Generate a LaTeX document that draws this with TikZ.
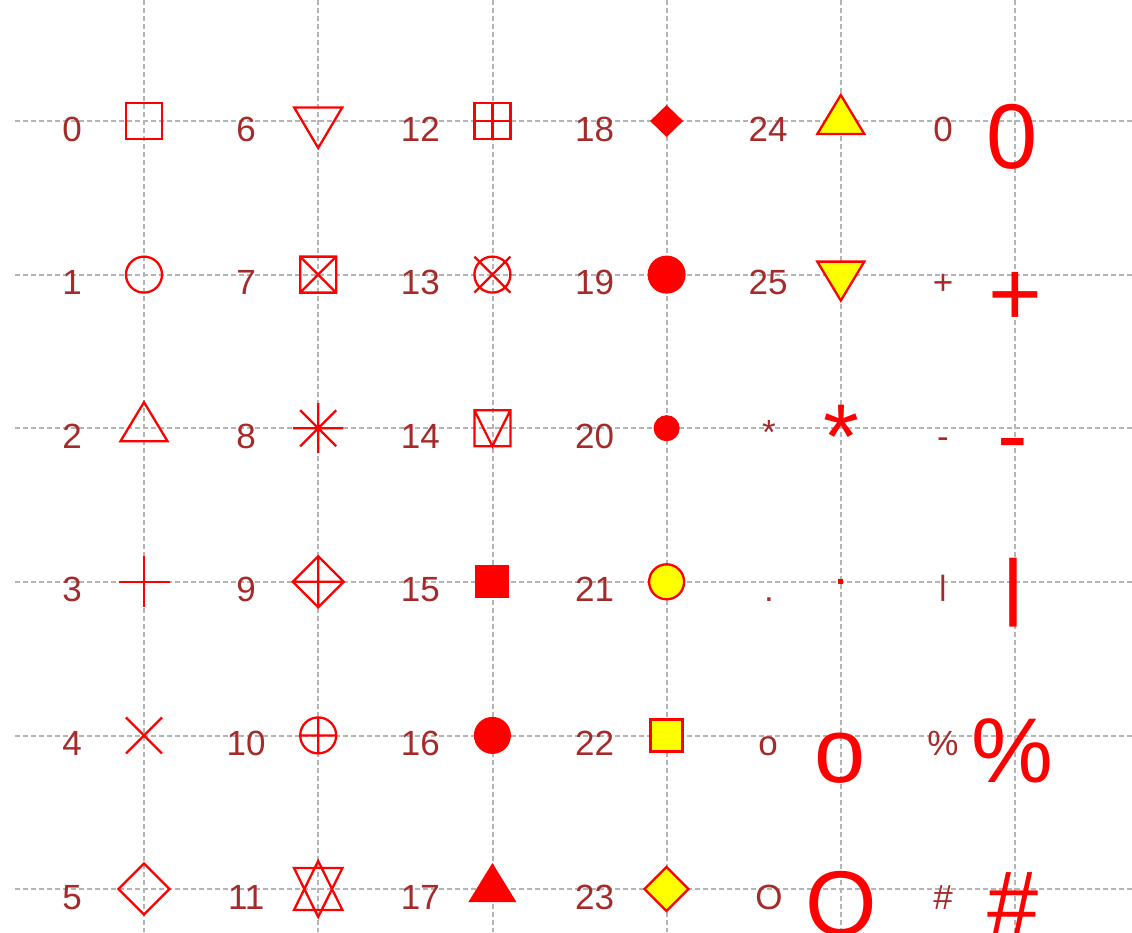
\documentclass[tikz,border=0pt]{standalone}
\usepackage{fontspec}
\setmainfont{Liberation Sans}
\usepackage{tikz}
\usetikzlibrary{positioning}

\definecolor{pchred}{HTML}{FF0000}
\definecolor{labelred}{HTML}{A52A2A}
\definecolor{pchyellow}{HTML}{FFFF00}
\definecolor{gridgray}{HTML}{B4B4B4}

\begin{document}
\begin{tikzpicture}[x=1pt, y=-1pt,
    grid line/.style={gridgray, line width=2.4pt, dash pattern=on 4.5pt off 3.5pt},
    sym/.style={draw=pchred, line width=2.3pt},
    solid sym/.style={fill=pchred, draw=pchred, line width=1pt},
    bg sym/.style={draw=pchred, fill=pchyellow, line width=2.3pt},
    lbl/.style={text=labelred, font=\fontsize{35}{35}\selectfont, anchor=base, inner sep=0pt},
    big/.style={text=pchred, font=\fontsize{92}{92}\selectfont, anchor=base, inner sep=0pt}]

\useasboundingbox (0,0) rectangle (1132,932);

% dotted grid
\foreach \gx in {144,318,493,667,841,1015}
  \draw[grid line] (\gx,0) -- (\gx,932);
\foreach \gy in {121,275,428,582,736,889}
  \draw[grid line] (15,\gy) -- (1132,\gy);

% symbol positions and number labels
\foreach \c in {0,...,4}
  \foreach \r in {0,...,5} {
    \pgfmathtruncatemacro\k{6*\c+\r}
    \coordinate (s\k) at ({144+174.2*\c},{121+153.6*\r});
  }
\foreach \c in {0,...,3}
  \foreach \r in {0,...,5} {
    \pgfmathtruncatemacro\k{6*\c+\r}
    \node[lbl] (lbl\k) at ({72+174.2*\c},{141+153.6*\r}) {\k};
  }
\node[lbl] (lbl24) at (768,141) {24};
\node[lbl] (lbl25) at (768,294.6) {25};
\node[lbl] (lblstar) at (769,444) {*};
\node[lbl] (lbldot) at (769,601.8) {.};
\node[lbl] (lblo) at (768,755.4) {o};
\node[lbl] (lblO) at (769,909) {O};
\node[lbl] (lblzero) at (943,141) {0};
\node[lbl] (lblplus) at (943,294.6) {+};
\node[lbl] (lblminus) at (943,448.2) {-};
\node[lbl, anchor=center] (lblbar) at (943,588.5) {\scalebox{1}[0.8]{|}};
\node[lbl] (lblpct) at (943,755.4) {\%};
\node[lbl] (lblhash) at (943,909) {\#};

% open symbols
\draw[sym, shift={(s0)}] (-18,-18) rectangle (18,18);
\draw[sym, shift={(s1)}] (0,0) circle[radius=18];
\draw[sym, shift={(s2)}] (0,-26) -- (23.5,13) -- (-23.5,13) -- cycle;
\draw[sym, shift={(s3)}] (-25.5,0) -- (25.5,0) (0,-25.5) -- (0,25.5);
\draw[sym, shift={(s4)}] (-18,-18) -- (18,18) (-18,18) -- (18,-18);
\draw[sym, shift={(s5)}] (-25.5,0) -- (0,-25.5) -- (25.5,0) -- (0,25.5) -- cycle;
\draw[sym, shift={(s6)}] (0,27) -- (24,-13.5) -- (-24,-13.5) -- cycle;
\draw[sym, shift={(s7)}] (-18,-18) rectangle (18,18) (-18,-18) -- (18,18) (-18,18) -- (18,-18);
\draw[sym, shift={(s8)}] (-25,0) -- (25,0) (0,-25) -- (0,25) (-18,-18) -- (18,18) (-18,18) -- (18,-18);
\draw[sym, shift={(s9)}] (-25.5,0) -- (0,-25.5) -- (25.5,0) -- (0,25.5) -- cycle
  (-25.5,0) -- (25.5,0) (0,-25.5) -- (0,25.5);
\draw[sym, shift={(s10)}] (0,0) circle[radius=18] (-18,0) -- (18,0) (0,-18) -- (0,18);
\draw[sym, shift={(s11)}] (0,-28) -- (24.2,21) -- (-24.2,21) -- cycle
  (0,28) -- (24.2,-21) -- (-24.2,-21) -- cycle;
\draw[sym, shift={(s12)}] (-18,-18) rectangle (18,18) (-18,0) -- (18,0) (0,-18) -- (0,18);
\draw[sym, shift={(s13)}] (0,0) circle[radius=18] (-18,-18) -- (18,18) (-18,18) -- (18,-18);
\draw[sym, shift={(s14)}] (-18,-18) rectangle (18,18) (-18,-18) -- (0,18) -- (18,-18);

% solid symbols
\fill[pchred, shift={(s15)}] (-17,-16.5) rectangle (17,16.5);
\draw[solid sym, shift={(s16)}] (0,0) circle[radius=18];
\fill[pchred, shift={(s17)}] (0,-26) -- (24,13) -- (-24,13) -- cycle;
\fill[pchred, shift={(s18)}] (-16.5,0) -- (0,-16) -- (16.5,0) -- (0,16) -- cycle;
\draw[solid sym, shift={(s19)}] (0,0) circle[radius=18.5];
\draw[solid sym, shift={(s20)}] (0,0) circle[radius=12.5];

% filled with yellow
\draw[bg sym, shift={(s21)}] (0,0) circle[radius=17.5];
\draw[bg sym, shift={(s22)}] (-16,-16) rectangle (16,16);
\draw[bg sym, shift={(s23)}] (-22,0) -- (0,-22) -- (22,0) -- (0,22) -- cycle;
\draw[bg sym, shift={(s24)}] (0,-26) -- (23.5,13) -- (-23.5,13) -- cycle;
\draw[bg sym, shift={(s25)}] (0,26) -- (23.5,-13) -- (-23.5,-13) -- cycle;

% character symbols
\node[big] (bigstar) at (841,468) {*};
\fill[pchred, shift={(s27)}] (-2.5,-2.5) rectangle (2.5,2.5);
\node[big] (bigo) at (840,782) {o};
\node[big] (bigO) at (841,935) {O};
\node[big] (bigzero) at (1012,168) {0};
\node[big] (bigplus) at (1015,325) {+};
\node[big] (bigminus) at (1013,466) {-};
\node[big, anchor=center] (bigbar) at (1013,593) {\scalebox{1}[0.8]{|}};
\node[big] (bigpct) at (1012,782) {\%};
\node[big] (bighash) at (1013,935) {\#};
\end{tikzpicture}
\end{document}
